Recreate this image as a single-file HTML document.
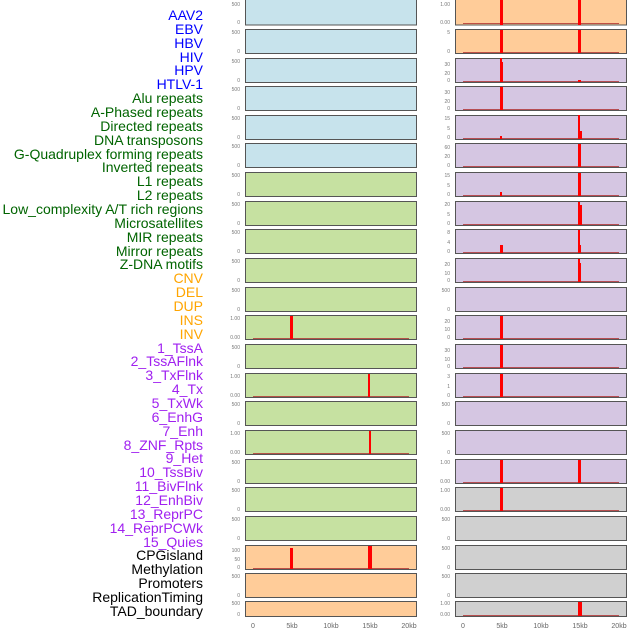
<!DOCTYPE html>
<html><head><style>body{margin:0;background:#fff}svg{display:block}</style></head><body>
<svg width="630" height="630" xmlns="http://www.w3.org/2000/svg" font-family="Liberation Sans, sans-serif">
<g font-size="14" text-anchor="end">
<text x="203" y="20" fill="#0000FF">AAV2</text>
<text x="203" y="34" fill="#0000FF">EBV</text>
<text x="203" y="48" fill="#0000FF">HBV</text>
<text x="203" y="62" fill="#0000FF">HIV</text>
<text x="203" y="75" fill="#0000FF">HPV</text>
<text x="203" y="89" fill="#0000FF">HTLV-1</text>
<text x="203" y="103" fill="#006400">Alu repeats</text>
<text x="203" y="117" fill="#006400">A-Phased repeats</text>
<text x="203" y="131" fill="#006400">Directed repeats</text>
<text x="203" y="145" fill="#006400">DNA transposons</text>
<text x="203" y="159" fill="#006400">G-Quadruplex forming repeats</text>
<text x="203" y="172" fill="#006400">Inverted repeats</text>
<text x="203" y="186" fill="#006400">L1 repeats</text>
<text x="203" y="200" fill="#006400">L2 repeats</text>
<text x="203" y="214" fill="#006400">Low_complexity A/T rich regions</text>
<text x="203" y="228" fill="#006400">Microsatellites</text>
<text x="203" y="242" fill="#006400">MIR repeats</text>
<text x="203" y="256" fill="#006400">Mirror repeats</text>
<text x="203" y="269" fill="#006400">Z-DNA motifs</text>
<text x="203" y="283" fill="#FFA500">CNV</text>
<text x="203" y="297" fill="#FFA500">DEL</text>
<text x="203" y="311" fill="#FFA500">DUP</text>
<text x="203" y="325" fill="#FFA500">INS</text>
<text x="203" y="339" fill="#FFA500">INV</text>
<text x="203" y="353" fill="#A020F0">1_TssA</text>
<text x="203" y="366" fill="#A020F0">2_TssAFlnk</text>
<text x="203" y="380" fill="#A020F0">3_TxFlnk</text>
<text x="203" y="394" fill="#A020F0">4_Tx</text>
<text x="203" y="408" fill="#A020F0">5_TxWk</text>
<text x="203" y="422" fill="#A020F0">6_EnhG</text>
<text x="203" y="436" fill="#A020F0">7_Enh</text>
<text x="203" y="450" fill="#A020F0">8_ZNF_Rpts</text>
<text x="203" y="463" fill="#A020F0">9_Het</text>
<text x="203" y="477" fill="#A020F0">10_TssBiv</text>
<text x="203" y="491" fill="#A020F0">11_BivFlnk</text>
<text x="203" y="505" fill="#A020F0">12_EnhBiv</text>
<text x="203" y="519" fill="#A020F0">13_ReprPC</text>
<text x="203" y="533" fill="#A020F0">14_ReprPCWk</text>
<text x="203" y="547" fill="#A020F0">15_Quies</text>
<text x="203" y="560" fill="#000">CPGisland</text>
<text x="203" y="574" fill="#000">Methylation</text>
<text x="203" y="588" fill="#000">Promoters</text>
<text x="203" y="602" fill="#000">ReplicationTiming</text>
<text x="203" y="616" fill="#000">TAD_boundary</text>
</g>
<g stroke="#555" stroke-width="1">
<!-- left panels -->
<rect x="245.5" y="-1" width="171" height="26" fill="#C7E3EC"/>
<rect x="245.5" y="29.5" width="171" height="24" fill="#C7E3EC"/>
<rect x="245.5" y="58.5" width="171" height="24" fill="#C7E3EC"/>
<rect x="245.5" y="86.5" width="171" height="24" fill="#C7E3EC"/>
<rect x="245.5" y="115.5" width="171" height="24" fill="#C7E3EC"/>
<rect x="245.5" y="143.5" width="171" height="24" fill="#C7E3EC"/>
<rect x="245.5" y="172.5" width="171" height="24" fill="#C6E1A1"/>
<rect x="245.5" y="201.5" width="171" height="24" fill="#C6E1A1"/>
<rect x="245.5" y="229.5" width="171" height="24" fill="#C6E1A1"/>
<rect x="245.5" y="258.5" width="171" height="24" fill="#C6E1A1"/>
<rect x="245.5" y="287.5" width="171" height="24" fill="#C6E1A1"/>
<rect x="245.5" y="315.5" width="171" height="24" fill="#C6E1A1"/>
<rect x="245.5" y="344.5" width="171" height="24" fill="#C6E1A1"/>
<rect x="245.5" y="373.5" width="171" height="24" fill="#C6E1A1"/>
<rect x="245.5" y="401.5" width="171" height="24" fill="#C6E1A1"/>
<rect x="245.5" y="430.5" width="171" height="24" fill="#C6E1A1"/>
<rect x="245.5" y="459.5" width="171" height="24" fill="#C6E1A1"/>
<rect x="245.5" y="487.5" width="171" height="24" fill="#C6E1A1"/>
<rect x="245.5" y="516.5" width="171" height="24" fill="#C6E1A1"/>
<rect x="245.5" y="545.5" width="171" height="24" fill="#FFCC99"/>
<rect x="245.5" y="573.5" width="171" height="24" fill="#FFCC99"/>
<rect x="245.5" y="601.5" width="171" height="15" fill="#FFCC99"/>
<!-- right panels -->
<rect x="455.5" y="-1" width="171" height="26" fill="#FFCC99"/>
<rect x="455.5" y="29.5" width="171" height="24" fill="#FFCC99"/>
<rect x="455.5" y="58.5" width="171" height="24" fill="#D5C6E2"/>
<rect x="455.5" y="86.5" width="171" height="24" fill="#D5C6E2"/>
<rect x="455.5" y="115.5" width="171" height="24" fill="#D5C6E2"/>
<rect x="455.5" y="143.5" width="171" height="24" fill="#D5C6E2"/>
<rect x="455.5" y="172.5" width="171" height="24" fill="#D5C6E2"/>
<rect x="455.5" y="201.5" width="171" height="24" fill="#D5C6E2"/>
<rect x="455.5" y="229.5" width="171" height="24" fill="#D5C6E2"/>
<rect x="455.5" y="258.5" width="171" height="24" fill="#D5C6E2"/>
<rect x="455.5" y="287.5" width="171" height="24" fill="#D5C6E2"/>
<rect x="455.5" y="315.5" width="171" height="24" fill="#D5C6E2"/>
<rect x="455.5" y="344.5" width="171" height="24" fill="#D5C6E2"/>
<rect x="455.5" y="373.5" width="171" height="24" fill="#D5C6E2"/>
<rect x="455.5" y="401.5" width="171" height="24" fill="#D5C6E2"/>
<rect x="455.5" y="430.5" width="171" height="24" fill="#D5C6E2"/>
<rect x="455.5" y="459.5" width="171" height="24" fill="#D5C6E2"/>
<rect x="455.5" y="487.5" width="171" height="24" fill="#D0D0D0"/>
<rect x="455.5" y="516.5" width="171" height="24" fill="#D0D0D0"/>
<rect x="455.5" y="545.5" width="171" height="24" fill="#D0D0D0"/>
<rect x="455.5" y="573.5" width="171" height="24" fill="#D0D0D0"/>
<rect x="455.5" y="601.5" width="171" height="15" fill="#D0D0D0"/>
</g>
<!-- baselines -->
<g stroke="#B03030" stroke-width="1" opacity="0.8">
<line x1="253" x2="409" y1="338.5" y2="338.5"/>
<line x1="253" x2="409" y1="396.5" y2="396.5"/>
<line x1="253" x2="409" y1="453.5" y2="453.5"/>
<line x1="253" x2="409" y1="568.5" y2="568.5"/>
<line x1="463" x2="619" y1="23.5" y2="23.5"/>
<line x1="463" x2="619" y1="52.5" y2="52.5"/>
<line x1="463" x2="619" y1="81.5" y2="81.5"/>
<line x1="463" x2="619" y1="109.5" y2="109.5"/>
<line x1="463" x2="619" y1="138.5" y2="138.5"/>
<line x1="463" x2="619" y1="166.5" y2="166.5"/>
<line x1="463" x2="619" y1="195.5" y2="195.5"/>
<line x1="463" x2="619" y1="224.5" y2="224.5"/>
<line x1="463" x2="619" y1="252.5" y2="252.5"/>
<line x1="463" x2="619" y1="281.5" y2="281.5"/>
<line x1="463" x2="619" y1="338.5" y2="338.5"/>
<line x1="463" x2="619" y1="367.5" y2="367.5"/>
<line x1="463" x2="619" y1="396.5" y2="396.5"/>
<line x1="463" x2="619" y1="482.5" y2="482.5"/>
<line x1="463" x2="619" y1="510.5" y2="510.5"/>
<line x1="463" x2="619" y1="615.5" y2="615.5"/>
</g>
<g fill="#FF0000">
<rect x="290" y="316" width="3" height="23"/>
<rect x="368" y="374" width="2" height="23"/>
<rect x="369" y="431" width="2" height="23"/>
<rect x="290" y="548" width="3" height="21"/>
<rect x="368" y="546" width="4" height="23"/>
<rect x="500" y="0" width="3" height="25"/>
<rect x="578" y="0" width="3" height="25"/>
<rect x="500" y="30" width="3" height="23"/>
<rect x="578" y="30" width="3" height="23"/>
<rect x="500" y="58" width="2" height="24"/>
<rect x="502" y="62" width="1" height="20"/>
<rect x="578" y="80" width="3" height="2"/>
<rect x="500" y="87" width="3" height="23"/>
<rect x="500" y="136" width="2" height="3"/>
<rect x="578" y="115" width="2" height="24"/>
<rect x="580" y="131" width="2" height="8"/>
<rect x="578" y="144" width="3" height="23"/>
<rect x="500" y="192" width="2" height="4"/>
<rect x="578" y="173" width="3" height="23"/>
<rect x="578" y="202" width="2" height="23"/>
<rect x="580" y="205" width="2" height="20"/>
<rect x="500" y="245" width="3" height="8"/>
<rect x="578" y="230" width="2" height="23"/>
<rect x="580" y="245" width="1" height="8"/>
<rect x="578" y="259" width="2" height="23"/>
<rect x="580" y="263" width="1" height="19"/>
<rect x="500" y="316" width="3" height="23"/>
<rect x="500" y="345" width="3" height="23"/>
<rect x="500" y="374" width="3" height="23"/>
<rect x="500" y="460" width="3" height="23"/>
<rect x="578" y="460" width="3" height="23"/>
<rect x="500" y="488" width="3" height="23"/>
<rect x="578" y="602" width="4" height="14"/>
</g>
<g font-size="5" fill="#777" text-anchor="end">
<text x="240" y="6">500</text><text x="240" y="24">0</text>
<text x="240" y="34">500</text><text x="240" y="53">0</text>
<text x="240" y="63">500</text><text x="240" y="82">0</text>
<text x="240" y="91">500</text><text x="240" y="110">0</text>
<text x="240" y="120">500</text><text x="240" y="139">0</text>
<text x="240" y="148">500</text><text x="240" y="167">0</text>
<text x="240" y="177">500</text><text x="240" y="196">0</text>
<text x="240" y="206">500</text><text x="240" y="225">0</text>
<text x="240" y="234">500</text><text x="240" y="253">0</text>
<text x="240" y="263">500</text><text x="240" y="282">0</text>
<text x="240" y="292">500</text><text x="240" y="311">0</text>
<text x="240" y="320">1.00</text><text x="240" y="339">0.00</text>
<text x="240" y="349">500</text><text x="240" y="368">0</text>
<text x="240" y="378">1.00</text><text x="240" y="397">0.00</text>
<text x="240" y="406">500</text><text x="240" y="425">0</text>
<text x="240" y="435">1.00</text><text x="240" y="454">0.00</text>
<text x="240" y="464">500</text><text x="240" y="483">0</text>
<text x="240" y="492">500</text><text x="240" y="511">0</text>
<text x="240" y="521">500</text><text x="240" y="540">0</text>
<text x="240" y="552">100</text><text x="240" y="561">50</text><text x="240" y="569">0</text>
<text x="240" y="578">500</text><text x="240" y="597">0</text>
<text x="240" y="605">500</text><text x="240" y="616">0</text>
<text x="450" y="6">1.00</text><text x="450" y="24">0.00</text>
<text x="450" y="34">5</text><text x="450" y="53">0</text>
<text x="450" y="66">30</text><text x="450" y="75">20</text><text x="450" y="82">0</text>
<text x="450" y="94">30</text><text x="450" y="103">20</text><text x="450" y="110">0</text>
<text x="450" y="120">15</text><text x="450" y="130">5</text><text x="450" y="139">0</text>
<text x="450" y="149">60</text><text x="450" y="158">20</text><text x="450" y="167">0</text>
<text x="450" y="177">15</text><text x="450" y="187">5</text><text x="450" y="196">0</text>
<text x="450" y="206">20</text><text x="450" y="216">5</text><text x="450" y="225">0</text>
<text x="450" y="234">8</text><text x="450" y="244">4</text><text x="450" y="253">0</text>
<text x="450" y="266">20</text><text x="450" y="275">10</text><text x="450" y="282">0</text>
<text x="450" y="292">500</text><text x="450" y="311">0</text>
<text x="450" y="323">20</text><text x="450" y="331">10</text><text x="450" y="339">0</text>
<text x="450" y="352">30</text><text x="450" y="361">10</text><text x="450" y="368">0</text>
<text x="450" y="378">3</text><text x="450" y="388">1</text><text x="450" y="397">0</text>
<text x="450" y="406">500</text><text x="450" y="425">0</text>
<text x="450" y="435">500</text><text x="450" y="454">0</text>
<text x="450" y="464">1.00</text><text x="450" y="483">0.00</text>
<text x="450" y="492">1.00</text><text x="450" y="511">0.00</text>
<text x="450" y="521">500</text><text x="450" y="540">0</text>
<text x="450" y="550">500</text><text x="450" y="569">0</text>
<text x="450" y="578">500</text><text x="450" y="597">0</text>
<text x="450" y="605">1.00</text><text x="450" y="616">0.00</text>
</g>
<g font-size="7" fill="#666" text-anchor="middle">
<text x="253" y="628">0</text><text x="292" y="628">5kb</text><text x="331" y="628">10kb</text><text x="370" y="628">15kb</text><text x="409" y="628">20kb</text>
<text x="463" y="628">0</text><text x="502" y="628">5kb</text><text x="541" y="628">10kb</text><text x="580" y="628">15kb</text><text x="619" y="628">20kb</text>
</g>
</svg>
</body></html>
